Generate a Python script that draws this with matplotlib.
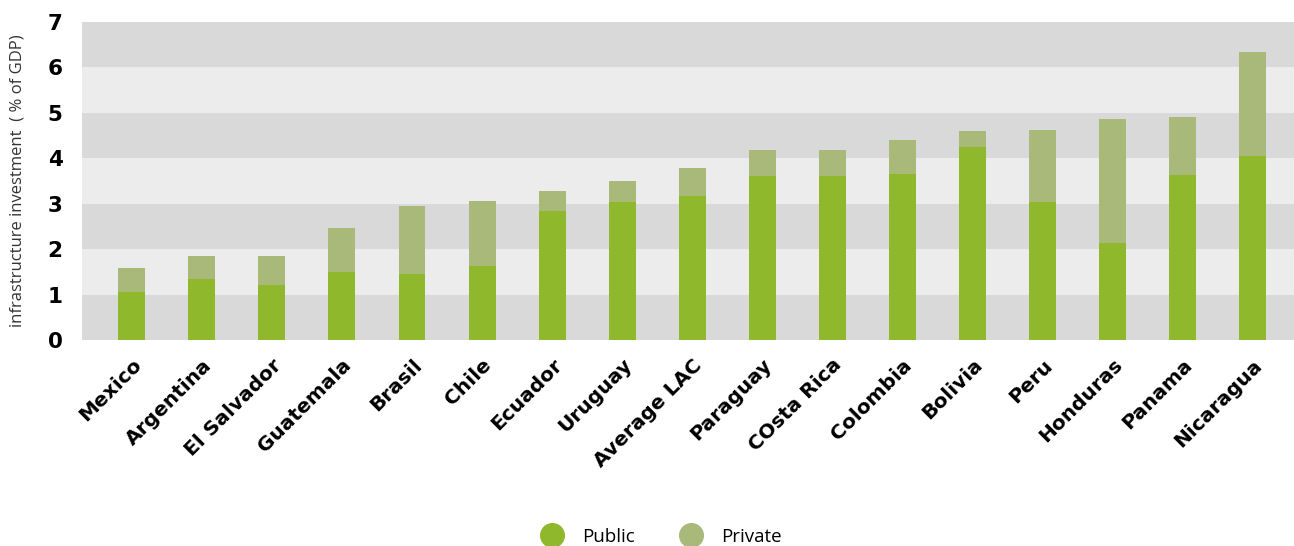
import matplotlib.pyplot as plt
from matplotlib.lines import Line2D

countries = ["Mexico", "Argentina", "El Salvador", "Guatemala", "Brasil", "Chile",
             "Ecuador", "Uruguay", "Average LAC", "Paraguay", "COsta Rica", "Colombia",
             "Bolivia", "Peru", "Honduras", "Panama", "Nicaragua"]
public = [1.06, 1.34, 1.21, 1.50, 1.45, 1.63, 2.84, 3.04, 3.17, 3.61, 3.61, 3.65,
          4.25, 3.04, 2.14, 3.63, 4.05]
total = [1.58, 1.85, 1.85, 2.47, 2.95, 3.06, 3.28, 3.50, 3.79, 4.18, 4.18, 4.40,
         4.60, 4.62, 4.86, 4.91, 6.34]
private = [t - p for t, p in zip(total, public)]

green = "#8fb82d"
olive = "#a8b97a"

fig = plt.figure(figsize=(12.94, 5.46), dpi=100)
ax = fig.add_axes([0.0634, 0.377, 0.9366, 0.583])

# alternating background bands
for i in range(7):
    ax.axhspan(i, i + 1, color="#d9d9d9" if i % 2 == 0 else "#ececec", zorder=0, lw=0)

x = range(len(countries))
ax.bar(x, public, width=0.385, color=green, zorder=2)
ax.bar(x, private, bottom=public, width=0.385, color=olive, zorder=2)

ax.set_xlim(-0.71, 16.59)
ax.set_ylim(0, 7)
ax.set_yticks(range(8))
ax.set_yticklabels([str(i) for i in range(8)], fontsize=15.5, fontweight="bold")
ax.set_xticks(list(x))
ax.set_xticklabels(countries, rotation=45, ha="right", rotation_mode="anchor",
                   fontsize=14.5, fontweight="bold")
ax.tick_params(axis="y", length=0, pad=14)
ax.tick_params(axis="x", length=0, pad=11)
for s in ax.spines.values():
    s.set_visible(False)
ax.set_ylabel("infrastructure investment  ( % of GDP)", fontsize=12, color="#333333",
              family="Open Sans")
ax.yaxis.set_label_coords(-0.047, 0.5)

handles = [Line2D([], [], marker="o", ls="", markersize=17, color=green),
           Line2D([], [], marker="o", ls="", markersize=17, color=olive)]
fig.legend(handles, ["Public", "Private"], loc="lower center", ncol=2, frameon=False,
           bbox_to_anchor=(0.508, -0.03), prop={"family": "Open Sans", "size": 13.5},
           handletextpad=0.6, columnspacing=2.0)

fig.savefig("out.png")
